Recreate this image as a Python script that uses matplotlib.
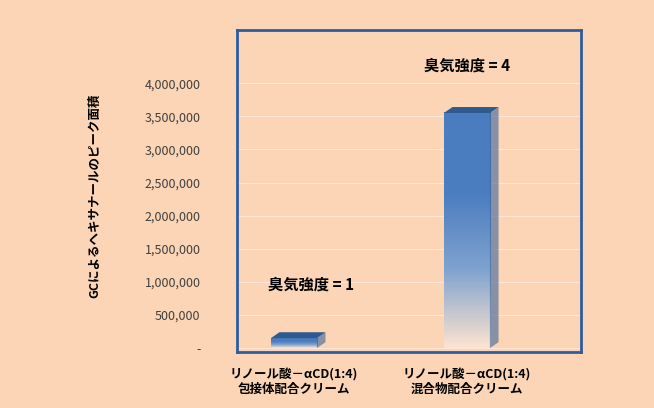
import matplotlib
matplotlib.use("Agg")
import matplotlib.pyplot as plt
import numpy as np
from matplotlib.patches import Polygon
from matplotlib.colors import LinearSegmentedColormap

plt.rcParams['font.family'] = ['Noto Sans CJK JP', 'DejaVu Sans']

categories = ["リノール酸－αCD(1:4)\n包接体配合クリーム", "リノール酸－αCD(1:4)\n混合物配合クリーム"]
values = [150000, 3550000]
annotations = ["臭気強度 = 1", "臭気強度 = 4"]
yticks = [0, 500000, 1000000, 1500000, 2000000, 2500000, 3000000, 3500000, 4000000]
ylabel = "GCによるヘキサナールのピーク面積"

bg = "#FBD5B5"
fig = plt.figure(figsize=(6.54, 4.08), dpi=100, facecolor=bg)
ax = fig.add_axes([0.362, 0.137, 0.526, 0.789], facecolor=bg)
for s in ax.spines.values():
    s.set_color("#2E5C9E"); s.set_linewidth(2)
ax.set_yticks(yticks)
ax.set_yticklabels(["-"] + [f"{v:,}" for v in yticks[1:]], fontsize=9, color="#404040")
ax.tick_params(axis='y', length=0, pad=26)
ax.tick_params(axis='x', length=0, pad=12)
ax.set_xticks([0, 1])
ax.set_xticklabels(categories, fontsize=9, fontweight='bold', linespacing=1.1)
ax.yaxis.grid(True, color="#FDE6D6", lw=0.8)
ax.set_axisbelow(True)

cmap = LinearSegmentedColormap.from_list("g", ["#FBE3D0", "#7FA2CF", "#4A7CC0", "#4A7CC0"])
w = 0.266
dx, dy = 0.05, 90000
for i, v in enumerate(values):
    grad = np.linspace(0, 1, 100).reshape(-1, 1)
    ax.imshow(grad, extent=[i - w/2, i + w/2, 0, v], origin='lower', cmap=cmap,
              aspect='auto', zorder=3)
    ax.add_patch(Polygon([(i + w/2, 0), (i + w/2 + dx, dy), (i + w/2 + dx, v + dy), (i + w/2, v)],
                         closed=True, facecolor="#3A6399", edgecolor='none', zorder=3, alpha=0.6))
    ax.add_patch(Polygon([(i - w/2, v), (i - w/2 + dx, v + dy), (i + w/2 + dx, v + dy), (i + w/2, v)],
                         closed=True, facecolor="#2F5A8F", edgecolor='none', zorder=4))
ax.text(0.1, 960000, annotations[0], fontsize=11, fontweight='bold', ha='center', va='center')
ax.text(1.0, 4260000, annotations[1], fontsize=11, fontweight='bold', ha='center', va='center')
ax.set_xlim(-0.33, 1.658)
ax.set_ylim(-60000, 4800000)

fig.text(0.145, 0.52, ylabel, rotation=90, fontsize=9, fontweight='bold', ha='center', va='center')
fig.savefig("out.png", dpi=100, facecolor=bg)
